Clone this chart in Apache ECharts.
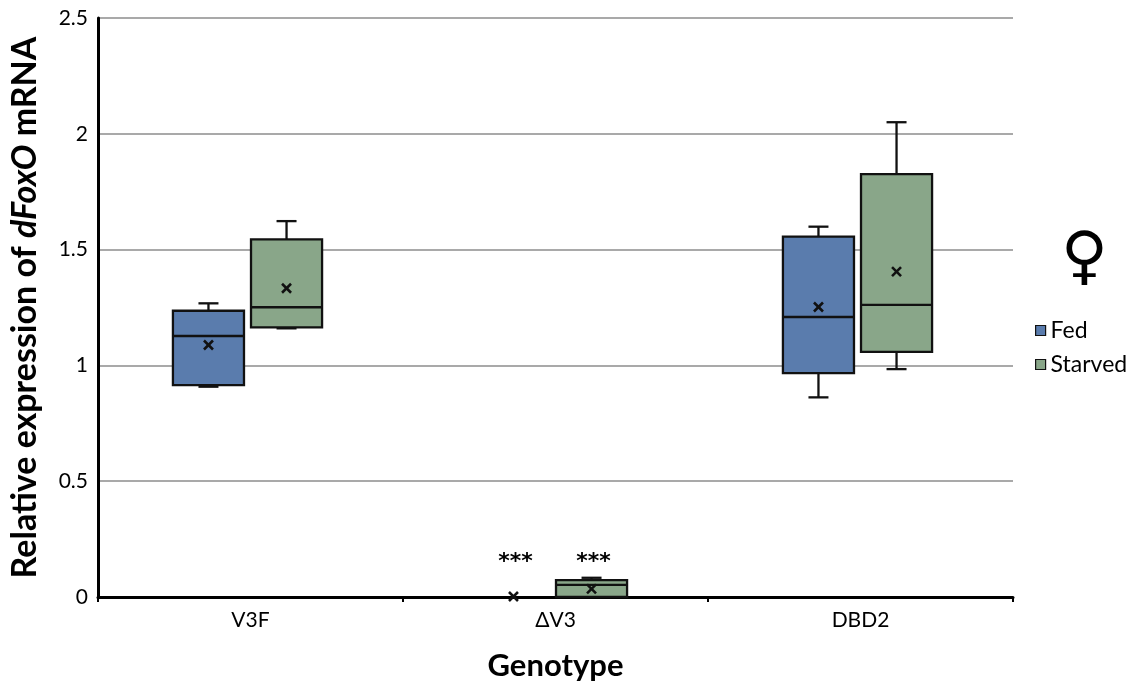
<!DOCTYPE html>
<html>
<head>
<meta charset="utf-8">
<title>dFoxO expression</title>
<script src="https://cdn.jsdelivr.net/npm/echarts@6/dist/echarts.min.js"></script>
<style>
  html, body { margin: 0; padding: 0; background: #fff; }
  #chart { width: 1138px; height: 688px; }
</style>
</head>
<body>
<div id="chart"></div>
<script>
// Genotypes on the x axis
const genotypes = ['V3F', 'ΔV3', 'DBD2'];

// Box statistics per genotype: [whiskerLow, Q1, median, Q3, whiskerHigh, mean]
const fedStats = [
  [0.908, 0.915, 1.127, 1.236, 1.268, 1.088],
  [0.002, 0.002, 0.002, 0.002, 0.003, 0.002],
  [0.862, 0.967, 1.209, 1.556, 1.599, 1.252]
];
const starvedStats = [
  [1.160, 1.164, 1.251, 1.544, 1.623, 1.333],
  [0.000, 0.000, 0.052, 0.073, 0.083, 0.035],
  [0.984, 1.058, 1.261, 1.826, 2.050, 1.405]
];

// Significance marks versus V3F
const fedSig = ['', '***', ''];
const starvedSig = ['', '***', ''];

const yTicks = [0, 0.5, 1, 1.5, 2, 2.5];

const FED_COLOR = '#5a7cad';
const STARVED_COLOR = '#89a689';
const FONT = 'Lato, "Open Sans", sans-serif';

function toData(stats, sig) {
  return stats.map((s, i) => [i].concat(s).concat([sig[i]]));
}

// Draws one box with whiskers, median line, mean cross and significance text
function boxRenderer(side, fill) {
  return function (params, api) {
    const cat = api.value(0);
    const band = api.size([1, 0])[0];
    const cx = api.coord([cat, 0])[0] - 3 + side * band * 0.128;
    const w = band * 0.233;
    const y = v => api.coord([cat, v])[1];
    const lo = y(api.value(1)), q1 = y(api.value(2)), med = y(api.value(3));
    const q3 = y(api.value(4)), hi = y(api.value(5)), mean = y(api.value(6));
    const sig = api.value(7);
    const cap = 10;
    const line = { stroke: '#111', lineWidth: 2.3 };
    const kids = [];
    if (Math.abs(q1 - q3) > 0.5) {
      kids.push(
        { type: 'line', shape: { x1: cx, y1: q3, x2: cx, y2: hi }, style: line },
        { type: 'line', shape: { x1: cx - cap, y1: hi, x2: cx + cap, y2: hi }, style: line },
        { type: 'line', shape: { x1: cx, y1: q1, x2: cx, y2: lo }, style: line },
        { type: 'line', shape: { x1: cx - cap, y1: lo, x2: cx + cap, y2: lo }, style: line },
        { type: 'rect', shape: { x: cx - w / 2, y: q3, width: w, height: q1 - q3 },
          style: { fill: fill, stroke: '#111', lineWidth: 2.3 } },
        { type: 'line', shape: { x1: cx - w / 2, y1: med, x2: cx + w / 2, y2: med }, style: line }
      );
    }
    const m = 4.5;
    const cross = { stroke: '#111', lineWidth: 2.6 };
    kids.push(
      { type: 'line', shape: { x1: cx - m, y1: mean - m, x2: cx + m, y2: mean + m }, style: cross },
      { type: 'line', shape: { x1: cx - m, y1: mean + m, x2: cx + m, y2: mean - m }, style: cross }
    );
    if (sig) {
      kids.push({
        type: 'text',
        style: {
          text: sig, x: cx + 2, y: y(0.15),
          align: 'center', verticalAlign: 'middle',
          font: 'bold 22px "DejaVu Sans", sans-serif', fill: '#000'
        }
      });
    }
    return { type: 'group', children: kids };
  };
}

const chart = echarts.init(document.getElementById('chart'));
chart.setOption({
  animation: false,
  backgroundColor: '#fff',
  textStyle: { fontFamily: FONT },
  grid: { left: 98, right: 125, top: 18, bottom: 91 },
  legend: {
    orient: 'vertical',
    left: 1030, top: 314,
    itemWidth: 10, itemHeight: 10, itemGap: 11,
    icon: 'rect',
    itemStyle: { borderColor: '#111', borderWidth: 1.2 },
    textStyle: { fontSize: 23, lineHeight: 23, color: '#000', fontFamily: FONT },
    data: ['Fed', 'Starved']
  },
  graphic: [{
    type: 'text',
    left: 1061, top: 228,
    style: { text: '♀', font: 'bold 64px "DejaVu Sans", sans-serif', fill: '#000' }
  }],
  xAxis: {
    type: 'category',
    data: genotypes,
    name: 'Genotype',
    nameLocation: 'middle',
    nameGap: 53,
    nameTextStyle: { fontSize: 31, fontWeight: 'bold', color: '#000', fontFamily: FONT },
    axisLine: { lineStyle: { color: '#000', width: 3 } },
    axisTick: { show: true, length: 5, lineStyle: { color: '#000', width: 2 } },
    axisLabel: { fontSize: 21, color: '#000', margin: 13, fontFamily: FONT }
  },
  yAxis: {
    type: 'value',
    min: yTicks[0], max: yTicks[yTicks.length - 1], interval: 0.5,
    name: '{b|Relative expression of }{i|dFoxO}{b| mRNA}',
    nameLocation: 'middle',
    nameRotate: 90,
    nameGap: 56,
    nameTextStyle: {
      rich: {
        b: { fontSize: 34, fontWeight: 'bold', color: '#000', fontFamily: FONT },
        i: { fontSize: 34, fontWeight: 'bold', fontStyle: 'italic', color: '#000', fontFamily: FONT }
      }
    },
    axisLine: { show: true, lineStyle: { color: '#000', width: 3 } },
    axisTick: { show: false },
    axisLabel: { fontSize: 21, color: '#000', margin: 10, fontFamily: FONT },
    splitLine: { lineStyle: { color: '#8c8c8c', width: 1.5 } }
  },
  series: [
    {
      name: 'Fed', type: 'custom',
      itemStyle: { color: FED_COLOR },
      renderItem: boxRenderer(-1, FED_COLOR),
      encode: { x: 0, y: [1, 5] },
      data: toData(fedStats, fedSig)
    },
    {
      name: 'Starved', type: 'custom',
      itemStyle: { color: STARVED_COLOR },
      renderItem: boxRenderer(1, STARVED_COLOR),
      encode: { x: 0, y: [1, 5] },
      data: toData(starvedStats, starvedSig)
    }
  ]
});
</script>
</body>
</html>
